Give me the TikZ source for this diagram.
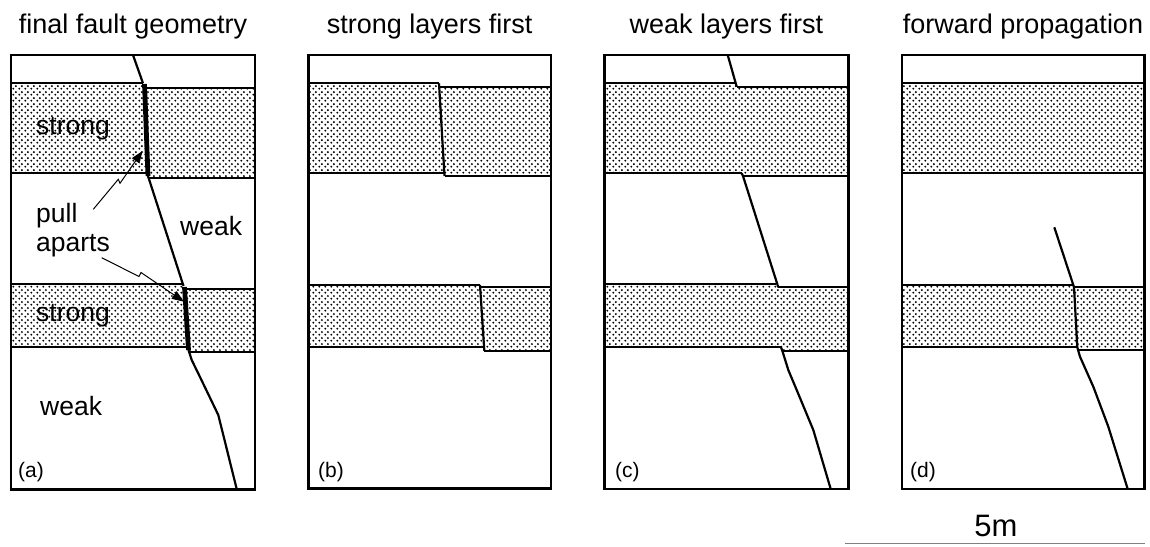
\documentclass[tikz,border=0pt]{standalone}
\usepackage{fontspec}
\setmainfont{Liberation Sans}
\usetikzlibrary{arrows.meta, patterns}

% dotted fill for the competent beds
\pgfdeclarepatternformonly{stipple}{\pgfqpoint{0pt}{0pt}}{\pgfqpoint{6pt}{6pt}}{\pgfqpoint{6pt}{6pt}}{%
  \pgfpathcircle{\pgfqpoint{1.5pt}{1.5pt}}{1.2pt}
  \pgfpathcircle{\pgfqpoint{4.5pt}{4.5pt}}{1.2pt}
  \pgfusepath{fill}}

\tikzset{
  panelbox/.style={line width=2.4pt},
  bedline/.style={line width=2.2pt},
  faultline/.style={line width=2.2pt, line join=round},
  pullapart/.style={line width=4.8pt},
  strongbed/.style={pattern=stipple},
  title/.style={font=\fontsize{27}{30}\selectfont, anchor=base, inner sep=0pt},
  label/.style={font=\fontsize{26.5}{30}\selectfont, anchor=base west, inner sep=0pt},
  tag/.style={font=\fontsize{21}{24}\selectfont, anchor=base west, inner sep=0pt},
  callout/.style={line width=1pt, -{Triangle[length=12pt,width=9pt]}},
}

\begin{document}
\begin{tikzpicture}[x=1pt, y=-1pt]
    \useasboundingbox (0,0) rectangle (1150,546);
    \fill[white] (0,0) rectangle (1150,546);

    % Titles
    \node[title] (ttla) at (133,33) {final fault geometry};
    \node[title] (ttlb) at (429.6,33) {strong layers first};
    \node[title] (ttlc) at (726.3,33) {weak layers first};
    \node[title] (ttld) at (1023,33) {forward propagation};

    % (a) final fault geometry
    \fill[strongbed] (11,83.3) -- (143,83.3) -- (147,172.7) -- (11,172.7) -- cycle;
    \fill[strongbed] (145,88.3) -- (255,88.3) -- (255,177.7) -- (149,177.7) -- cycle;
    \fill[strongbed] (11,284.3) -- (183.3,284.3) -- (187,347.3) -- (11,347.3) -- cycle;
    \fill[strongbed] (185,289.3) -- (255,289.3) -- (255,352.3) -- (190,352.3) -- cycle;
    \draw[bedline] (11,83.3) -- (143,83.3) (145,88.3) -- (255,88.3);
    \draw[bedline] (11,172.7) -- (147,172.7) (149,177.7) -- (255,177.7);
    \draw[bedline] (11,284.3) -- (183.3,284.3) (185,289.3) -- (255,289.3);
    \draw[bedline] (11,347.3) -- (187,347.3) (190,352.3) -- (255,352.3);
    \draw[faultline] (133,55) -- (143,83.3);
    \draw[pullapart] (144.5,84) -- (148,176);
    \draw[faultline] (148,176) -- (183.5,286);
    \draw[pullapart] (184.5,287) -- (188.5,350);
    \draw[faultline] (188.5,350) -- (191.7,360) -- (200,377) -- (218.3,415) -- (236.7,489);
    \draw[panelbox] (11,55) rectangle (255,489.5);

    \node[label] (stronga) at (36,134) {strong};
    \node[label] (weaka) at (180,235) {weak};
    \node[label] (pull) at (36,222.7) {pull};
    \node[label] (aparts) at (36,251.7) {aparts};
    \node[label] (strongb) at (36,321.7) {strong};
    \node[label] (weakb) at (40,415) {weak};
    \node[tag] (taga) at (18,477.7) {(a)};

    % pull-apart callouts
    \coordinate (pa1s) at (93.3,209.3);
    \coordinate (pa1z) at (118.3,179.3);
    \coordinate (pa1j) at (120,183.3);
    \coordinate (pa1t) at (142.5,151);
    \coordinate (pa2s) at (101.7,257.7);
    \coordinate (pa2z) at (139,276.5);
    \coordinate (pa2j) at (141,272.5);
    \coordinate (pa2t) at (184,301.7);
    \draw[callout] (pa1s) -- (pa1z) -- (pa1j) -- (pa1t);
    \draw[callout] (pa2s) -- (pa2z) -- (pa2j) -- (pa2t);

    % (b) strong layers first
    \fill[strongbed] (308.3,83.3) -- (439,83.3) -- (444,173.3) -- (308.3,173.3) -- cycle;
    \fill[strongbed] (440,86.7) -- (551,86.7) -- (551,176) -- (444.5,176) -- cycle;
    \fill[strongbed] (308.3,285) -- (480,285) -- (484,347.3) -- (308.3,347.3) -- cycle;
    \fill[strongbed] (480.5,287.3) -- (551,287.3) -- (551,350.7) -- (484.3,350.7) -- cycle;
    \draw[bedline] (308.3,83.3) -- (439,83.3) (440,86.7) -- (551,86.7);
    \draw[bedline] (308.3,173.3) -- (444,173.3) (444.5,176) -- (551,176);
    \draw[bedline] (308.3,285) -- (480,285) (480.5,287.3) -- (551,287.3);
    \draw[bedline] (308.3,347.3) -- (484,347.3) (484.3,350.7) -- (551,350.7);
    \draw[faultline] (439,83.3) -- (444.5,176);
    \draw[faultline] (480,285) -- (484.3,350.7);
    \draw[panelbox] (308.3,55) rectangle (551,488.5);
    \node[tag] (tagb) at (318,477.7) {(b)};

    % (c) weak layers first
    \fill[strongbed] (604.3,83.3) -- (735.5,83.3) -- (736.7,86.7) -- (848.3,86.7) -- (848.3,176)
        -- (743,176) -- (741.7,173.3) -- (604.3,173.3) -- cycle;
    \fill[strongbed] (604.3,284) -- (776,284) -- (778.3,287.3) -- (848.3,287.3) -- (848.3,350.7)
        -- (782.3,350.7) -- (781,347.3) -- (604.3,347.3) -- cycle;
    \draw[bedline] (604.3,83.3) -- (735.5,83.3) (736.7,86.7) -- (848.3,86.7);
    \draw[bedline] (604.3,173.3) -- (741.7,173.3) (743,176) -- (848.3,176);
    \draw[bedline] (604.3,284) -- (776,284) (778.3,287.3) -- (848.3,287.3);
    \draw[bedline] (604.3,347.3) -- (781,347.3) (782.3,350.7) -- (848.3,350.7);
    \draw[faultline] (727.7,55) -- (736.7,86.7);
    \draw[faultline] (741.7,173.3) -- (743,176) -- (778.3,287.3);
    \draw[faultline] (781,347.3) -- (782.3,350.7) -- (788.3,370) -- (796.7,390) -- (813.3,430) -- (830.7,489);
    \draw[panelbox] (604.3,55) rectangle (848.3,489);
    \node[tag] (tagc) at (615,477.7) {(c)};

    % (d) forward propagation
    \fill[strongbed] (901.7,83.3) rectangle (1144.3,173.3);
    \fill[strongbed] (901.7,285) -- (1073.3,285) -- (1074,287.3) -- (1144.3,287.3) -- (1144.3,350)
        -- (1077.5,350) -- (1077.3,347.3) -- (901.7,347.3) -- cycle;
    \draw[bedline] (901.7,83.3) -- (1144.3,83.3) (901.7,173.3) -- (1144.3,173.3);
    \draw[bedline] (901.7,285) -- (1073.3,285) (1074,287.3) -- (1144.3,287.3);
    \draw[bedline] (901.7,347.3) -- (1077.3,347.3) (1077.5,350) -- (1144.3,350);
    \draw[faultline] (1054.3,227.3) -- (1073.3,285) -- (1074,287.3) -- (1077.3,347.3) -- (1080,356.7)
        -- (1093.3,386.7) -- (1108.3,426.7) -- (1127.7,489);
    \draw[panelbox] (901.7,55) rectangle (1144.3,489);
    \node[tag] (tagd) at (910,477.7) {(d)};

    % Scale bar
    \node[font=\fontsize{31}{34}\selectfont, anchor=base, inner sep=0pt] (scl) at (996,536.7) {5m};
    \draw[gray, line width=1.3pt] (845,543.3) -- (1145,543.3);

\end{tikzpicture}
\end{document}
